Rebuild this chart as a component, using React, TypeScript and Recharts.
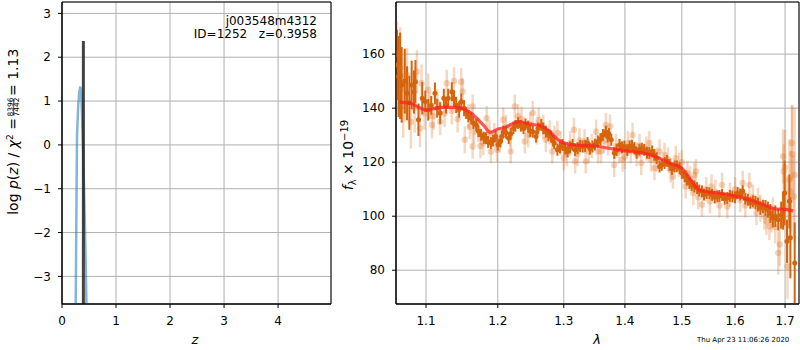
import React from 'react';
import {
  ComposedChart,
  Line,
  Scatter,
  ErrorBar,
  XAxis,
  YAxis,
  CartesianGrid,
  ReferenceArea,
} from 'recharts';

// ---- left panel: log p(z)
const pzZ = [0.24, 0.254, 0.266, 0.278, 0.3, 0.32, 0.34, 0.355, 0.37, 0.389, 0.405, 0.42, 0.437, 0.452, 0.465];
const pzLog = [-4.3, -3.63, -1.6, 0.2, 0.9, 1.2, 1.33, 1.2, 0.7, 0.0, -0.8, -1.6, -2.6, -3.63, -4.3];
const zBest = 0.3958;
const zBestTop = 2.37;
const zTicks = [0, 1, 2, 3, 4];
const pzTicks = [-3, -2, -1, 0, 1, 2, 3];

// ---- right panel: spectrum, strong points
const darkLam = [
  1.062, 1.064, 1.066, 1.068, 1.072, 1.075, 1.078, 1.081, 1.084, 1.086, 1.09, 1.095, 1.099, 1.103, 1.107,
  1.112, 1.115, 1.119, 1.124, 1.127, 1.13, 1.135, 1.138, 1.141, 1.145, 1.148, 1.152, 1.155, 1.158, 1.162,
  1.165, 1.169, 1.172, 1.176, 1.18, 1.183, 1.186, 1.19, 1.193, 1.197, 1.2, 1.204, 1.206, 1.2085, 1.212,
  1.216, 1.219, 1.223, 1.226, 1.23, 1.234, 1.238, 1.241, 1.245, 1.248, 1.252, 1.257, 1.26, 1.265, 1.268,
  1.272, 1.276, 1.28, 1.283, 1.285, 1.29, 1.294, 1.298, 1.302, 1.306, 1.31, 1.314, 1.318, 1.322, 1.326,
  1.33, 1.334, 1.338, 1.342, 1.346, 1.35, 1.355, 1.359, 1.363, 1.368, 1.371, 1.373, 1.377, 1.382, 1.386,
  1.391, 1.395, 1.399, 1.404, 1.408, 1.412, 1.416, 1.42, 1.425, 1.429, 1.433, 1.438, 1.442, 1.447, 1.451,
  1.455, 1.46, 1.464, 1.469, 1.473, 1.478, 1.482, 1.487, 1.491, 1.496, 1.5, 1.505, 1.509, 1.514, 1.518,
  1.523, 1.528, 1.532, 1.537, 1.541, 1.546, 1.551, 1.556, 1.561, 1.566, 1.57, 1.575, 1.58, 1.585, 1.59,
  1.595, 1.6, 1.605, 1.61, 1.615, 1.62, 1.625, 1.63, 1.635, 1.64, 1.645, 1.65, 1.655, 1.66, 1.665,
  1.67, 1.675, 1.68, 1.686, 1.692, 1.696, 1.699, 1.704, 1.709, 1.711, 1.72,
];
const darkFlux = [
  156, 151.7, 152, 148.6, 150, 145.5, 142, 148.6, 146, 149.8, 135.7, 143.7, 142.5, 139.4, 141,
  145.5, 140, 138.2, 143.7, 141, 143.7, 146.1, 143.5, 141.2, 139.5, 142.4, 140, 138.2, 137, 136.3,
  134.5, 133.8, 131.5, 130.1, 129, 128.9, 127.5, 127.1, 128, 129.5, 126.5, 127.7, 129.5, 131.3, 131,
  128.9, 130.5, 132.6, 133.5, 134.5, 133.5, 132.6, 134, 133.2, 131.5, 131.3, 129.5, 132.5, 133.8, 132.5,
  131.3, 130, 129.5, 128, 127.1, 124.6, 125.5, 126.4, 125, 124.0, 125.5, 126.4, 124.5, 125.2, 126,
  125.8, 126, 127.1, 125, 125.8, 126.5, 127.7, 128.5, 130.1, 131.3, 129.5, 130.5, 128.3, 123.4, 124.5,
  126.4, 125.5, 125.8, 124.5, 125.8, 126, 125.2, 123.5, 124.6, 125, 124.6, 123.5, 123.4, 124, 122.7,
  121.5, 118.4, 119, 119.7, 120.5, 119.0, 117.5, 118.4, 118.5, 117.8, 116, 114.7, 113.5, 112.3, 111.5,
  111.0, 110.4, 109.5, 109.2, 108, 108.6, 108.5, 107.9, 107, 107.3, 107.5, 107.9, 106.5, 106.7, 107.5,
  107.3, 107, 108.6, 108, 109.2, 106.5, 106.1, 105, 105.5, 105, 104.3, 103, 103.6, 103, 102.4,
  101, 99.3, 100, 98.7, 100.4, 102, 108.6, 90.7, 105.5, 92.0, 82.7,
];
const darkErr = [
  13, 15, 16, 14, 12, 10, 10, 9, 8, 8, 6, 6, 4, 4, 3.5,
  4, 3.5, 4, 3.5, 3, 3.5, 3.5, 3, 3, 3, 3, 3, 2.2, 2.2, 2.2,
  2.2, 2.2, 2.2, 2.2, 2.2, 2.2, 2.2, 2.2, 2.2, 2.2, 2.2, 2.2, 2.2, 2.2, 2.2,
  2.2, 2.2, 2.2, 2.2, 2.2, 2.2, 2.2, 2.2, 2.2, 2.2, 2.2, 2.2, 2.2, 2.2, 2.2,
  2.2, 2.2, 2.2, 2.2, 2.2, 2.2, 2.2, 2.2, 2.2, 2.2, 2.2, 2.2, 2.2, 2.2, 2.2,
  2.2, 2.2, 2.2, 2.2, 2.2, 2.2, 2.2, 2.2, 2.2, 2.2, 2.2, 2.2, 2.2, 2.2, 2.2,
  2.2, 2.2, 2.2, 2.2, 2.2, 2.2, 2.2, 2.2, 2.2, 2.2, 2.2, 2.2, 2.2, 2.2, 2.2,
  2.2, 2.2, 2.2, 2.2, 2.2, 2.2, 2.2, 2.2, 2.2, 2.2, 2.2, 2.2, 2.2, 2.2, 2.2,
  2.2, 2.2, 2.2, 2.2, 2.2, 2.2, 2.2, 2.2, 2.2, 2.2, 2.2, 2.2, 2.2, 2.2, 2.2,
  2.2, 2.2, 2.2, 2.2, 2.2, 2.2, 2.2, 2.2, 2.2, 2.5, 2.5, 2.5, 2.5, 3, 3,
  3.5, 3.5, 4, 4, 5, 7, 12, 8, 10, 15, 15,
];

// ---- right panel: faint points
const lightLam = [
  1.062, 1.066, 1.07, 1.072, 1.075, 1.08, 1.085, 1.088, 1.092, 1.094, 1.098, 1.103, 1.105, 1.108, 1.11,
  1.115, 1.119, 1.125, 1.128, 1.135, 1.138, 1.143, 1.148, 1.15, 1.153, 1.158, 1.16, 1.164, 1.164, 1.166,
  1.172, 1.175, 1.179, 1.184, 1.188, 1.19, 1.195, 1.199, 1.203, 1.208, 1.212, 1.218, 1.219, 1.225, 1.23,
  1.235, 1.24, 1.245, 1.248, 1.252, 1.258, 1.261, 1.268, 1.272, 1.278, 1.282, 1.285, 1.29, 1.295, 1.3,
  1.305, 1.31, 1.316, 1.318, 1.322, 1.325, 1.333, 1.335, 1.34, 1.345, 1.352, 1.355, 1.36, 1.365, 1.368,
  1.372, 1.375, 1.382, 1.385, 1.39, 1.396, 1.4, 1.405, 1.41, 1.413, 1.42, 1.425, 1.428, 1.437, 1.442,
  1.445, 1.451, 1.455, 1.46, 1.469, 1.475, 1.48, 1.484, 1.489, 1.495, 1.5, 1.507, 1.51, 1.515, 1.521,
  1.523, 1.526, 1.53, 1.537, 1.545, 1.552, 1.555, 1.562, 1.57, 1.575, 1.585, 1.59, 1.6, 1.61, 1.615,
  1.62, 1.628, 1.635, 1.642, 1.645, 1.65, 1.658, 1.662, 1.668, 1.672, 1.675, 1.68, 1.686, 1.689, 1.696,
  1.697, 1.7, 1.705, 1.705, 1.709, 1.712, 1.714, 1.715, 1.718, 1.72,
];
const lightFlux = [
  160, 155, 141, 147, 152.3, 135, 140, 153.5, 132.6, 149.2, 138, 146.8, 141, 133.8, 137,
  142, 135, 138, 149.2, 139, 150.1, 136, 149.8, 146.1, 128.3, 137, 133, 125.8, 140.6, 131.3,
  132, 126, 127.1, 136.3, 131, 124, 130, 124.6, 128, 135.7, 133, 130, 124, 140.6, 137,
  136, 127.7, 130, 134, 138.2, 131, 135.7, 133, 128.3, 131, 124, 129, 130.8, 127, 121.5,
  123, 127, 132, 120.3, 123, 128, 127.7, 120.3, 124, 126, 131.3, 124, 124, 128, 133.8,
  127, 133.2, 119, 126, 124, 120.9, 122, 127, 124, 130.1, 123, 126, 119.7, 125, 127.1,
  121, 117.8, 121, 124, 122.7, 121, 117, 114.7, 121.5, 119, 120, 111, 116, 114, 108.6,
  115.3, 116.6, 107, 104.3, 110, 105.5, 111, 109, 104, 111.6, 103.6, 108, 110, 106, 112.3,
  104, 111.6, 107, 101.2, 106, 103, 100, 98.1, 96.2, 99, 102, 96, 86.4, 89.5, 122.1,
  116.6, 118, 103, 81.4, 113.5, 109.2, 127.1, 123, 107.3, 115.3,
];
const lightErr = [
  12, 15, 12, 12, 10, 10, 9, 8, 7, 7, 6, 6, 5, 5, 5,
  5, 5, 5, 5, 5, 5, 5, 5, 5, 5, 4.5, 4.5, 4.5, 4.5, 4.5,
  4.5, 4.5, 4.5, 4.5, 4.5, 4.5, 4.5, 4.5, 4.5, 4.5, 4.5, 4.5, 4.5, 4.5, 4.5,
  4.5, 4.5, 4.5, 4.5, 4.5, 4.5, 4.5, 4.5, 4.5, 4.5, 4.5, 4.5, 4.5, 4.5, 4.5,
  4.5, 4.5, 4.5, 4.5, 4.5, 4.5, 4.5, 4.5, 4.5, 4.5, 4.5, 4.5, 4.5, 4.5, 4.5,
  4.5, 4.5, 4.5, 4.5, 4.5, 4.5, 4.5, 4.5, 4.5, 4.5, 4.5, 4.5, 4.5, 4.5, 4.5,
  4.5, 4.5, 4.5, 4.5, 4.5, 4.5, 4.5, 4.5, 4.5, 4.5, 4.5, 4.5, 4.5, 4.5, 4.5,
  4.5, 4.5, 4.5, 4.5, 4.5, 4.5, 4.5, 4.5, 4.5, 4.5, 4.5, 4.5, 4.5, 4.5, 4.5,
  4.5, 4.5, 4.5, 4.5, 4.5, 5, 5, 5, 5, 5, 5, 6, 8, 8, 10,
  10, 14, 12, 12, 15, 15, 14, 18, 15, 25,
];

const modelLam = [
  1.065, 1.08, 1.1, 1.12, 1.14, 1.16, 1.18, 1.189, 1.2, 1.21, 1.23, 1.25, 1.263, 1.275, 1.29,
  1.31, 1.33, 1.35, 1.37, 1.4, 1.43, 1.46, 1.48, 1.5, 1.52, 1.534, 1.57, 1.6, 1.63, 1.66,
  1.68, 1.7, 1.717,
];
const modelFlux = [
  142.2, 141.7, 139.3, 140.3, 140.3, 138.5, 133.5, 131, 132.3, 132.8, 135, 134, 133.5, 132, 128.5,
  126.5, 126.2, 126, 125.3, 124.2, 123.5, 121.5, 119.5, 117.8, 112.5, 109.5, 108.5, 107.5, 106, 104,
  102.7, 102.5, 102.0,
];
const lamTicks = [1.1, 1.2, 1.3, 1.4, 1.5, 1.6, 1.7];
const fluxTicks = [80, 100, 120, 140, 160];

const pzData = pzZ.map((z, i) => ({ z, v: pzLog[i] }));
const bestData = [{ z: zBest, v: -4.3 }, { z: zBest, v: zBestTop }];
const darkPts = darkLam.map((l, i) => ({ l, f: darkFlux[i], e: darkErr[i] }));
const lightPts = lightLam.map((l, i) => ({ l, f: lightFlux[i], e: lightErr[i] }));
const modelData = modelLam.map((l, i) => ({ l, f: modelFlux[i] }));

const fmtMinus = (v: number) => (v < 0 ? '\u2212' + Math.abs(v) : String(v));
const tickStyle = { fill: '#000', fontSize: 12 };
const FONT = '"DejaVu Sans", sans-serif';

const DARK = '#d5640c';
const LIGHT = '#e07020';
const LAM_DOMAIN = [1.0607, 1.729];
const FLUX_DOMAIN = [67.5, 179.3];

export default function App() {
  return (
    <div style={{ position: 'absolute', left: 0, top: 0, width: 800, height: 350, background: '#fff', fontFamily: FONT }}>
      <div style={{ position: 'absolute', left: 0, top: 0 }}>
        <ComposedChart width={340} height={350} margin={{ top: 2, right: 9, bottom: 0, left: 0 }}>
          <CartesianGrid stroke="#b0b0b0" strokeWidth={1} />
          <XAxis
            dataKey="z"
            type="number"
            domain={[0, 4.98]}
            ticks={zTicks}
            allowDataOverflow
            height={46}
            tick={tickStyle}
            tickSize={4}
            tickMargin={8}
            stroke="#000"
          />
          <YAxis
            type="number"
            domain={[-3.63, 3.26]}
            ticks={pzTicks}
            allowDataOverflow
            width={62}
            tick={tickStyle}
            tickFormatter={fmtMinus}
            tickSize={4}
            tickMargin={7}
            stroke="#000"
          />
          <Line
            data={pzData}
            dataKey="v"
            stroke="#1f77b4"
            strokeOpacity={0.55}
            strokeWidth={2.5}
            dot={false}
            isAnimationActive={false}
          />
          <Line
            data={bestData}
            dataKey="v"
            stroke="#222"
            strokeOpacity={0.85}
            strokeWidth={3}
            dot={false}
            isAnimationActive={false}
          />
          <ReferenceArea x1={0} x2={4.98} y1={-3.63} y2={3.26} fill="none" stroke="#000" strokeWidth={1} />
        </ComposedChart>
      </div>
      <div style={{ position: 'absolute', left: 340, top: 0 }}>
        <ComposedChart width={460} height={350} margin={{ top: 2, right: 1, bottom: 0, left: 0 }}>
          <CartesianGrid stroke="#b0b0b0" strokeWidth={1} />
          <XAxis
            dataKey="l"
            type="number"
            scale="log"
            domain={LAM_DOMAIN}
            ticks={lamTicks}
            allowDataOverflow
            height={46}
            tick={tickStyle}
            tickFormatter={(v: number) => v.toFixed(1)}
            tickSize={4}
            tickMargin={8}
            stroke="#000"
          />
          <YAxis
            type="number"
            domain={FLUX_DOMAIN}
            ticks={fluxTicks}
            allowDataOverflow
            width={56}
            tick={tickStyle}
            tickSize={4}
            tickMargin={7}
            stroke="#000"
          />
          <Scatter
            data={lightPts}
            dataKey="f"
            isAnimationActive={false}
            shape={(p: any) => <circle cx={p.cx} cy={p.cy} r={3.2} fill={LIGHT} fillOpacity={0.3} />}
          >
            <ErrorBar dataKey="e" direction="y" width={0} stroke={LIGHT} strokeOpacity={0.28} strokeWidth={2.5} isAnimationActive={false} />
          </Scatter>
          <Scatter
            data={darkPts}
            dataKey="f"
            isAnimationActive={false}
            shape={(p: any) => <circle cx={p.cx} cy={p.cy} r={2.5} fill={DARK} />}
          >
            <ErrorBar dataKey="e" direction="y" width={0} stroke={DARK} strokeWidth={2} isAnimationActive={false} />
          </Scatter>
          <ReferenceArea x1={LAM_DOMAIN[0]} x2={LAM_DOMAIN[1]} y1={FLUX_DOMAIN[0]} y2={FLUX_DOMAIN[1]} fill="none" stroke="#000" strokeWidth={1} />
        </ComposedChart>
      </div>
      {/* model curve on its own layer so it sits above the points */}
      <div style={{ position: 'absolute', left: 340, top: 0, pointerEvents: 'none' }}>
        <ComposedChart width={460} height={350} margin={{ top: 2, right: 1, bottom: 46, left: 56 }}>
          <XAxis dataKey="l" type="number" scale="log" domain={LAM_DOMAIN} allowDataOverflow hide />
          <YAxis type="number" domain={FLUX_DOMAIN} allowDataOverflow hide />
          <Line
            data={modelData}
            dataKey="f"
            type="monotone"
            stroke="#ff2020"
            strokeOpacity={0.75}
            strokeWidth={3.2}
            dot={false}
            isAnimationActive={false}
          />
        </ComposedChart>
      </div>
      <svg width={800} height={350} style={{ position: 'absolute', left: 0, top: 0, pointerEvents: 'none' }} fontFamily={FONT}>
        <text x={317} y={25} fontSize={12} textAnchor="end" fill="#000">j003548m4312</text>
        <text x={317} y={38} fontSize={12} textAnchor="end" fill="#000">{'ID=1252\u00a0\u00a0\u00a0z=0.3958'}</text>
        <text x={195} y={344} fontSize={13} fontStyle="italic" textAnchor="middle" fill="#000">z</text>
        <text x={597} y={344} fontSize={13} fontStyle="italic" textAnchor="middle" fill="#000">λ</text>
        <text x={697} y={342} fontSize={7} fill="#000">Thu Apr 23 11:06:26 2020</text>
        <g transform="translate(17.5,154) rotate(-90)" fill="#000" fontSize={14}>
          <text x={36} y={0} textAnchor="end">
            {'log\u00a0'}<tspan fontStyle="italic">p</tspan>(<tspan fontStyle="italic">z</tspan>){'\u00a0/\u00a0'}<tspan fontStyle="italic">χ</tspan>
            <tspan fontSize={9} dy={-5}>2</tspan>
            <tspan dy={5}>{'\u00a0='}</tspan>
          </text>
          <text x={47} y={-5} fontSize={7.5} textAnchor="middle">8396</text>
          <line x1={39} x2={55} y1={-3.8} y2={-3.8} stroke="#000" strokeWidth={0.7} />
          <text x={47} y={1.5} fontSize={7.5} textAnchor="middle">7442</text>
          <text x={58} y={0}>= 1.13</text>
        </g>
        <g transform="translate(353,155) rotate(-90)" fill="#000" fontSize={14} textAnchor="middle">
          <text x={0} y={0}>
            <tspan fontStyle="italic">f</tspan>
            <tspan fontSize={10} dy={3}>λ</tspan>
            <tspan dy={-3}>{'\u00a0×\u00a010'}</tspan>
            <tspan fontSize={10} dy={-5}>−19</tspan>
          </text>
        </g>
      </svg>
    </div>
  );
}
